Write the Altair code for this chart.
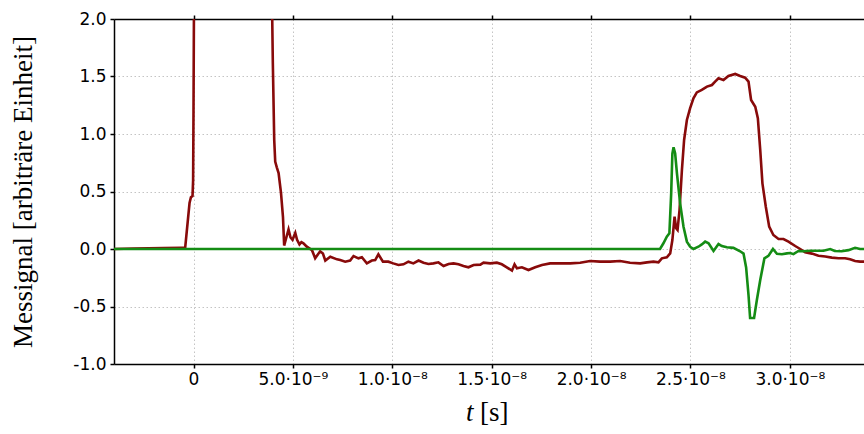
import altair as alt
import pandas as pd

# ---- data (time in ns, signal in arbitrary units) ----
red_t_ns = [-4.0, -3.0, -1.5, -0.6, -0.42, -0.20, -0.13, -0.05, -0.02, 0.00, 0.02, 0.06, 0.50, 3.50,
            3.93, 3.96, 3.99, 4.06, 4.11, 4.19, 4.28, 4.40, 4.50, 4.56, 4.67, 4.78, 4.88, 4.98, 5.12,
            5.21, 5.33, 5.43, 5.53, 5.70, 5.96, 6.12, 6.37, 6.51, 6.63, 6.88, 7.22, 7.38, 7.63, 7.88,
            8.05, 8.30, 8.47, 8.72, 8.97, 9.14, 9.30, 9.53, 9.80, 10.05, 10.31, 10.56, 10.81, 11.06,
            11.32, 11.57, 11.82, 12.07, 12.32, 12.58, 12.83, 13.08, 13.33, 13.58, 13.83, 14.09, 14.43,
            14.59, 14.93, 15.26, 15.51, 15.76, 16.02, 16.15, 16.27, 16.52, 16.85, 17.19, 17.53, 17.94,
            18.44, 18.95, 19.45, 19.95, 20.45, 20.96, 21.46, 21.96, 22.47, 22.81, 23.14, 23.39, 23.56,
            23.81, 23.98, 24.09, 24.20, 24.28, 24.35, 24.45, 24.57, 24.68, 24.82, 24.98, 25.15, 25.32,
            25.57, 25.83, 26.08, 26.24, 26.41, 26.66, 26.91, 27.25, 27.50, 27.75, 27.92, 28.05, 28.26,
            28.39, 28.51, 28.62, 28.79, 28.96, 29.17, 29.43, 29.68, 29.93, 30.27, 30.52, 30.77, 31.11,
            31.44, 31.78, 32.11, 32.45, 32.78, 33.03, 33.28, 33.53, 33.74]
red_y = [0.0, 0.005, 0.008, 0.01, 0.01, 0.40, 0.45, 0.46, 0.60, 1.20, 2.00, 2.60, 3.00, 3.00,
         2.30, 2.00, 1.62, 0.95, 0.76, 0.71, 0.66, 0.49, 0.28, 0.03, 0.10, 0.17, 0.10, 0.08, 0.14,
         0.08, 0.04, 0.06, 0.05, 0.02, -0.01, -0.08, -0.02, -0.04, -0.10, -0.067, -0.09, -0.096, -0.11, -0.10,
         -0.061, -0.081, -0.072, -0.125, -0.10, -0.096, -0.046, -0.11, -0.11, -0.125, -0.139, -0.133, -0.11, -0.125,
         -0.10, -0.119, -0.13, -0.125, -0.116, -0.148, -0.13, -0.125, -0.133, -0.148, -0.159, -0.139, -0.136,
         -0.119, -0.125, -0.119, -0.133, -0.159, -0.188, -0.133, -0.168, -0.159, -0.183, -0.159, -0.139, -0.125,
         -0.125, -0.125, -0.119, -0.104, -0.11, -0.11, -0.104, -0.119, -0.125, -0.116, -0.110, -0.116, -0.081,
         -0.072, -0.038, 0.078, 0.281, 0.180, 0.165, 0.339, 0.687, 0.948, 1.122, 1.223, 1.310, 1.362,
         1.383, 1.412, 1.426, 1.455, 1.484, 1.470, 1.504, 1.522, 1.504, 1.490, 1.455, 1.296, 1.237,
         1.137, 0.861, 0.571, 0.368, 0.194, 0.122, 0.087, 0.087, 0.064, 0.026, 0.0, -0.029, -0.04,
         -0.058, -0.065, -0.075, -0.08, -0.08, -0.09, -0.104, -0.11, -0.11]

green_t_ns = [-4.0, 23.47, 23.64, 23.81, 23.94, 24.03, 24.09, 24.15, 24.23, 24.32, 24.48, 24.65, 24.82,
              24.98, 25.15, 25.40, 25.57, 25.74, 25.91, 26.16, 26.41, 26.58, 26.83, 27.16, 27.50, 27.67,
              27.80, 27.92, 28.00, 28.20, 28.34, 28.51, 28.72, 28.92, 29.15, 29.35, 29.60, 29.85, 30.02,
              30.18, 30.43, 30.68, 31.02, 31.36, 31.69, 32.03, 32.26, 32.60, 32.95, 33.28, 33.53, 33.74]
green_y = [0.0, 0.0, 0.05, 0.107, 0.136, 0.484, 0.83, 0.884, 0.83, 0.658, 0.397, 0.194, 0.064,
           0.02, 0.0, 0.02, 0.04, 0.064, 0.05, -0.017, 0.043, 0.025, 0.015, 0.01, -0.02, -0.04,
           -0.16, -0.40, -0.60, -0.60, -0.443, -0.27, -0.081, -0.06, 0.0, -0.041, -0.045, -0.038, -0.035,
           -0.045, -0.017, -0.02, -0.015, -0.015, -0.015, 0.0, -0.017, -0.02, -0.01, 0.011, 0.0, 0.0]

x_tick_values = [0, 5e-9, 1e-8, 1.5e-8, 2e-8, 2.5e-8, 3e-8]
x_tick_labels = ["0", "5.0·10⁻⁹", "1.0·10⁻⁸", "1.5·10⁻⁸", "2.0·10⁻⁸", "2.5·10⁻⁸", "3.0·10⁻⁸"]
y_tick_values = [-1.0, -0.5, 0.0, 0.5, 1.0, 1.5, 2.0]

red_df = pd.DataFrame({"t": [v * 1e-9 for v in red_t_ns], "y": red_y})
green_df = pd.DataFrame({"t": [v * 1e-9 for v in green_t_ns], "y": green_y})

# label expression for x ticks
expr = "''"
for v, lab in reversed(list(zip(x_tick_values, x_tick_labels))):
    expr = f"round(datum.value*1e10)=={round(v * 1e10)} ? '{lab}' : ({expr})"

x_scale = alt.Scale(domain=[-4e-9, 3.373e-8], nice=False, zero=False)
y_scale = alt.Scale(domain=[-1.0, 2.0], nice=False, zero=False)

LABEL_FONT = "DejaVu Sans"
SERIF = "Liberation Serif"

y_axis = alt.Axis(values=y_tick_values, labelExpr="datum.value < 0 ? '-' + format(-datum.value, '.1f') : format(datum.value, '.1f')",
                  title="Messignal [arbiträre Einheit]", titleFont=SERIF, titleFontSize=27,
                  titleFontWeight="normal", titleColor="black", titleX=-83, titleY=172.5,
                  titleAngle=270, titleBaseline="alphabetic", titleAlign="center",
                  grid=True, tickSize=4, labelPadding=4)

x_axis_bottom = alt.Axis(values=x_tick_values, labelExpr=expr, title=None, grid=True,
                         tickSize=4, labelPadding=3, orient="bottom", labelFlush=False)
x_axis_top = alt.Axis(values=x_tick_values, labels=False, title=None, grid=False,
                      tickSize=4, orient="top")

red = alt.Chart(red_df).mark_line(color="#880a0a", strokeWidth=2.6, clip=True).encode(
    x=alt.X("t:Q", scale=x_scale, axis=x_axis_bottom),
    y=alt.Y("y:Q", scale=y_scale, axis=y_axis),
)
green = alt.Chart(green_df).mark_line(color="#148c14", strokeWidth=2.6, clip=True).encode(
    x=alt.X("t:Q", scale=x_scale, axis=x_axis_top),
    y=alt.Y("y:Q", scale=y_scale, axis=y_axis),
)

t_label = alt.Chart(pd.DataFrame({"a": [0]})).mark_text(
    text="t", font=SERIF, fontSize=27, fontStyle="italic", align="left", baseline="alphabetic", color="black"
).encode(x=alt.value(352), y=alt.value(402))
s_label = alt.Chart(pd.DataFrame({"a": [0]})).mark_text(
    text="[s]", font=SERIF, fontSize=27, align="left", baseline="alphabetic", color="black"
).encode(x=alt.value(366), y=alt.value(402))

chart = alt.layer(red, green, t_label, s_label).resolve_axis(x="independent").properties(
    width=750, height=345,
    background="white",
    autosize=alt.AutoSizeParams(type="none"),
    padding={"left": 114, "top": 19, "right": 0, "bottom": 70},
).configure_axis(
    labelFont=LABEL_FONT, labelFontSize=17, labelColor="black",
    domainColor="black", domainWidth=1.5, tickColor="black", tickWidth=1.5,
    gridColor="#c4c4c4", gridDash=[1.5, 2.5], gridWidth=1,
).configure_view(stroke=None)

chart.save("out.html", embed_options={"renderer": "svg", "actions": False})
